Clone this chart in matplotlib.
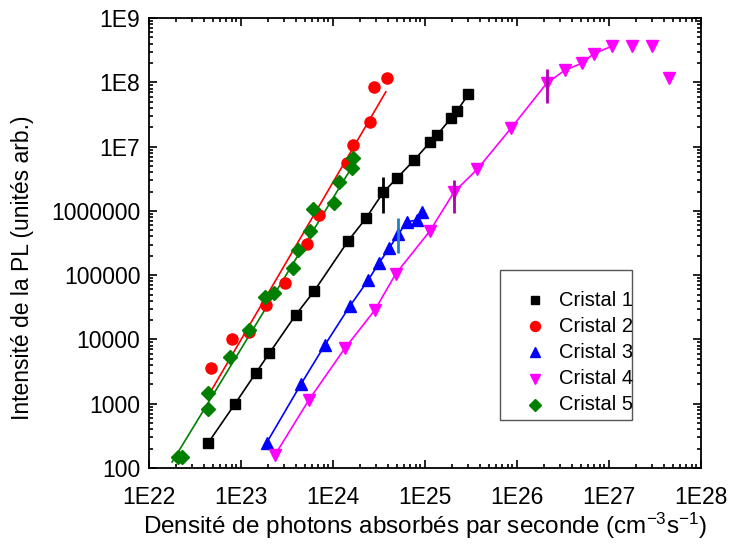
import numpy as np
import matplotlib
matplotlib.use("Agg")
import matplotlib.pyplot as plt
from matplotlib.lines import Line2D
from matplotlib.patches import Rectangle
from matplotlib.ticker import LogLocator, FuncFormatter, NullFormatter

plt.rcParams["font.family"] = ["Liberation Sans", "DejaVu Sans"]
plt.rcParams["mathtext.fontset"] = "custom"
plt.rcParams["mathtext.rm"] = "Liberation Sans"
plt.rcParams["mathtext.default"] = "regular"

# (photons cm^-3 s^-1, PL intensity a.u.)
c1_x = [4.45e22, 8.67e22, 1.47e23, 2.05e23, 3.96e23, 6.31e23, 1.48e24, 2.30e24,
        3.55e24, 4.97e24, 7.71e24, 1.16e25, 1.35e25, 1.96e25, 2.26e25, 3.0e25]
c1_y = [247, 988, 3030, 6080, 23900, 56600, 3.43e5, 7.64e5,
        1.94e6, 3.2e6, 6.17e6, 1.19e7, 1.49e7, 2.81e7, 3.61e7, 6.55e7]

c2_x = [4.75e22, 8.03e22, 1.24e23, 1.88e23, 3.03e23, 5.21e23, 7.1e23, 1.42e24,
        1.67e24, 2.54e24, 2.83e24, 3.86e24]
c2_y = [3560, 10000, 13200, 34300, 76200, 3.01e5, 8.61e5, 5.48e6,
        1.05e7, 2.43e7, 8.33e7, 1.19e8]
c2_fit_x = [4.84e22, 3.79e24]
c2_fit_y = [1633, 7.11e7]

c3_x = [1.92e23, 4.52e23, 8.24e23, 1.54e24, 2.44e24, 3.21e24, 4.12e24, 5.17e24,
        6.47e24, 8.18e24, 9.27e24]
c3_y = [247, 2000, 8180, 33000, 83900, 1.56e5, 2.61e5, 4.35e5,
        6.76e5, 7.19e5, 9.68e5]

c4_x = [2.36e23, 5.52e23, 1.36e24, 2.88e24, 4.84e24, 1.14e25, 2.10e25, 3.73e25,
        8.67e25, 2.12e26, 3.35e26, 5.09e26, 6.92e26, 1.10e27, 1.78e27, 2.98e27, 4.56e27]
c4_y = [159, 1140, 7280, 28600, 1.04e5, 4.85e5, 1.98e6, 4.42e6,
        1.92e7, 9.62e7, 1.55e8, 1.97e8, 2.81e8, 3.66e8, 3.66e8, 3.66e8, 1.15e8]
c4_n_line = 14  # line stops at the 1.1E27 point

c5_x = [2.08e22, 2.30e22, 4.45e22, 4.45e22, 7.65e22, 1.24e23, 1.84e23, 2.30e23,
        3.67e23, 4.23e23, 5.66e23, 6.15e23, 1.04e24, 1.18e24, 1.61e24, 1.67e24]
c5_y = [150, 150, 828, 1452, 5380, 14000, 46100, 53200,
        1.276e5, 2.45e5, 4.91e5, 1.07e6, 1.34e6, 2.77e6, 4.58e6, 6.55e6]
c5_fit_x = [1.80e22, 1.75e24]
c5_fit_y = [124, 5.74e6]

# vertical error bars
err_x = [3.55e24, 5.17e24, 2.10e25, 2.12e26]
err_lo = [9.33e5, 2.18e5, 9.14e5, 4.8e7]
err_hi = [3.32e6, 7.64e5, 3.01e6, 1.64e8]
err_col = ["black", "#1f80c8", "#b000b0", "#b000b0"]

labels = ["Cristal 1", "Cristal 2", "Cristal 3", "Cristal 4", "Cristal 5"]
colors = ["black", "#ff0000", "#0000ff", "#ff00ff", "#007f00"]
markers = ["s", "o", "^", "v", "D"]
msizes = [6.5, 8, 8, 8, 7]

W, H = 732, 548
fig = plt.figure(figsize=(W / 100, H / 100), dpi=100)
ax = fig.add_axes([0.203, 0.146, 0.754, 0.821])

# fitted / guide lines
ax.plot(c1_x, c1_y, "-", color=colors[0], lw=1.2)
ax.plot(c2_fit_x, c2_fit_y, "-", color=colors[1], lw=1.2)
ax.plot(c3_x, c3_y, "-", color=colors[2], lw=1.2)
ax.plot(c4_x[:c4_n_line], c4_y[:c4_n_line], "-", color=colors[3], lw=1.2)
ax.plot(c5_fit_x, c5_fit_y, "-", color=colors[4], lw=1.2)

for i, (xs, ys) in enumerate([(c1_x, c1_y), (c2_x, c2_y), (c3_x, c3_y),
                              (c4_x, c4_y), (c5_x, c5_y)]):
    ax.plot(xs, ys, linestyle="none", marker=markers[i], color=colors[i],
            ms=msizes[i], mec=colors[i], zorder=3)

ax.vlines(err_x, err_lo, err_hi, colors=err_col, lw=2, zorder=4)

ax.set_xscale("log")
ax.set_yscale("log")
ax.set_xlim(1e22, 1e28)
ax.set_ylim(100, 1e9)

ax.xaxis.set_major_locator(LogLocator(base=10, numticks=20))
ax.xaxis.set_minor_locator(LogLocator(base=10, subs=np.arange(2, 10), numticks=100))
ax.yaxis.set_major_locator(LogLocator(base=10, numticks=20))
ax.yaxis.set_minor_locator(LogLocator(base=10, subs=np.arange(2, 10), numticks=100))
ax.xaxis.set_minor_formatter(NullFormatter())
ax.yaxis.set_minor_formatter(NullFormatter())
ax.xaxis.set_major_formatter(FuncFormatter(lambda v, p: f"1E{int(round(np.log10(v)))}"))


def yfmt(v, p):
    n = int(round(np.log10(v)))
    return f"{10 ** n}" if n <= 6 else f"1E{n}"


ax.yaxis.set_major_formatter(FuncFormatter(yfmt))

ax.tick_params(which="both", direction="in", top=True, right=True,
               labelsize=16.5, width=1.2, colors="black")
ax.tick_params(which="major", length=6)
ax.tick_params(axis="x", which="major", pad=13)
ax.tick_params(axis="y", which="major", pad=6)
ax.tick_params(which="minor", length=3)
for s in ax.spines.values():
    s.set_linewidth(1.3)

ax.set_xlabel("Densité de photons absorbés par seconde (cm$^{-3}$s$^{-1}$)",
              fontsize=17.5)
ax.xaxis.set_label_coords(0.5, -0.095)
ax.set_ylabel("Intensité de la PL (unités arb.)", fontsize=16.5)
ax.yaxis.set_label_coords(-0.208, 0.445)

# legend box drawn by hand to match the reference spacing
fig.add_artist(Rectangle((500 / W, 1 - 420 / H), 132 / W, 150 / H,
                         transform=fig.transFigure, fill=False,
                         edgecolor="#555555", lw=1.0))
row_y = [300, 326, 352, 379, 405]
for i in range(5):
    fig.add_artist(Line2D([535 / W], [1 - row_y[i] / H], transform=fig.transFigure,
                          linestyle="none", marker=markers[i], color=colors[i],
                          ms=msizes[i] * 0.9))
    fig.text(559 / W, 1 - row_y[i] / H, labels[i], fontsize=14.5,
             va="center", ha="left")

fig.savefig("out.png", dpi=100)
